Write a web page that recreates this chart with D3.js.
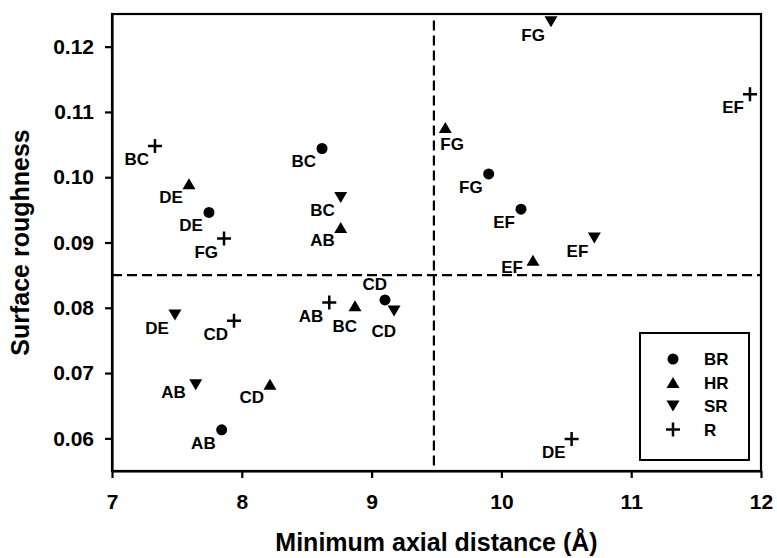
<!DOCTYPE html>
<html>
<head>
<meta charset="utf-8">
<script src="https://cdn.jsdelivr.net/npm/d3@7"></script>
<style>
  body { margin: 0; background: #fff; }
  text { font-family: "Liberation Sans", Arial, sans-serif; font-weight: bold; fill: #000; }
</style>
</head>
<body>
<div id="chart"></div>
<script>
// series shown in the legend
let seriesNames = ["BR", "HR", "SR", "R"];

// point labels (same order in every series)
let pairLabels = ["AB", "BC", "CD", "DE", "EF", "FG"];

// minimum axial distance (A) per series, same order as pairLabels
let brX = [7.845, 8.618, 9.103, 7.747, 10.151, 9.902];
let hrX = [8.762, 8.872, 8.217, 7.593, 10.243, 9.568];
let srX = [7.645, 8.762, 9.173, 7.485, 10.716, 10.382];
let rX  = [8.674, 7.331, 7.940, 10.541, 11.915, 7.863];

// surface roughness per series
let brY = [0.0613, 0.1044, 0.0812, 0.0946, 0.0951, 0.1005];
let hrY = [0.0923, 0.0803, 0.0683, 0.0990, 0.0873, 0.1076];
let srY = [0.0682, 0.0969, 0.0795, 0.0789, 0.0907, 0.1238];
let rY  = [0.0808, 0.1048, 0.0780, 0.0599, 0.1127, 0.0906];

// axis ticks
let xTicks = [7, 8, 9, 10, 11, 12];
let yTicks = [0.06, 0.07, 0.08, 0.09, 0.10, 0.11, 0.12];
let xDomain = [7, 12];
let yDomain = [0.055, 0.125];

// dashed divider lines
let xSplit = 9.48;
let ySplit = 0.085;
let xSplitTop = 0.124;

// where each label sits next to its marker (bl = below-left by default)
let labelSpots = {
  "BR-CD": "above",
  "HR-FG": "belowRight",
  "HR-EF": "left",
  "HR-BC": "below",
  "SR-CD": "below",
  "SR-AB": "left"
};

let spotOffsets = {
  bl:         {anchor: "end",   dx: -6,  dy: 19},
  left:       {anchor: "end",   dx: -10, dy: 13},
  above:      {anchor: "end",   dx: 2,   dy: -10},
  below:      {anchor: "end",   dx: 2,   dy: 26},
  belowRight: {anchor: "start", dx: -5,  dy: 22}
};

// set up the overall chart size
let svgWidth = 777;
let svgHeight = 558;

let margin = {
  top: 14,
  right: 16,
  bottom: 87,
  left: 112
};

let width = svgWidth - (margin.left + margin.right);
let height = svgHeight - (margin.top + margin.bottom);

let svg = d3.select("#chart")
  .append("svg")
  .attr("width", svgWidth)
  .attr("height", svgHeight);

let chartGroup = svg.append("g")
  .attr("transform", `translate(${margin.left}, ${margin.top})`);

let xLinearScale = d3.scaleLinear().domain(xDomain).range([0, width]);
let yLinearScale = d3.scaleLinear().domain(yDomain).range([height, 0]);

// build the point table from the arrays
let allX = [brX, hrX, srX, rX];
let allY = [brY, hrY, srY, rY];
let points = [];
seriesNames.forEach(function(s, i) {
  pairLabels.forEach(function(lab, j) {
    points.push({series: s, label: lab, x: allX[i][j], y: allY[i][j]});
  });
});

// marker shapes
function markerPath(series) {
  if (series === "BR") {
    let p = d3.path();
    p.arc(0, 0, 5.5, 0, 2 * Math.PI);
    return p.toString();
  }
  if (series === "HR") return "M-6.5,5.5L6.5,5.5L0,-5.5Z";
  if (series === "SR") return "M-6.5,-5.5L6.5,-5.5L0,5.5Z";
  return "M-7,0L7,0M0,-7L0,7";
}

function drawMarker(sel, series) {
  sel.append("path")
    .attr("d", markerPath(series))
    .attr("fill", series === "R" ? "none" : "#000")
    .attr("stroke", series === "R" ? "#000" : "none")
    .attr("stroke-width", 2.5);
}

// axes
let leftAxis = d3.axisLeft(yLinearScale)
  .tickValues(yTicks)
  .tickFormat(d3.format(".2f"))
  .tickSizeInner(7)
  .tickSizeOuter(0)
  .tickPadding(11);

let bottomAxis = d3.axisBottom(xLinearScale)
  .tickValues(xTicks)
  .tickFormat(d3.format("d"))
  .tickSizeInner(7)
  .tickSizeOuter(0)
  .tickPadding(16);

let yAxis = chartGroup.append("g").call(leftAxis);
let xAxis = chartGroup.append("g")
  .attr("transform", `translate(0,${height})`)
  .call(bottomAxis);

[xAxis, yAxis].forEach(function(ax) {
  ax.selectAll("path").attr("stroke-width", 2.2);
  ax.selectAll("line").attr("stroke-width", 2.2);
  ax.selectAll("text")
    .attr("font-size", "21px")
    .attr("font-family", "'Liberation Sans', Arial, sans-serif")
    .attr("font-weight", "bold")
    .attr("fill", "#000");
});

// frame
chartGroup.append("rect")
  .attr("x", 0)
  .attr("y", 0)
  .attr("width", width)
  .attr("height", height)
  .attr("fill", "none")
  .attr("stroke", "#000")
  .attr("stroke-width", 2.2);

// dashed dividers
chartGroup.append("line")
  .attr("x1", 0)
  .attr("x2", width)
  .attr("y1", yLinearScale(ySplit))
  .attr("y2", yLinearScale(ySplit))
  .attr("stroke", "#000")
  .attr("stroke-width", 2.2)
  .attr("stroke-dasharray", "10,5");

chartGroup.append("line")
  .attr("x1", xLinearScale(xSplit))
  .attr("x2", xLinearScale(xSplit))
  .attr("y1", yLinearScale(xSplitTop))
  .attr("y2", height)
  .attr("stroke", "#000")
  .attr("stroke-width", 2.2)
  .attr("stroke-dasharray", "10,5");

// points with labels
let nodes = chartGroup.append("g")
  .selectAll("g")
  .data(points)
  .enter()
  .append("g")
  .attr("transform", function(d) {
    return "translate(" + xLinearScale(d.x) + "," + yLinearScale(d.y) + ")";
  });

nodes.each(function(d) {
  drawMarker(d3.select(this), d.series);
});

nodes.append("text")
  .attr("font-size", "17px")
  .each(function(d) {
    let spot = spotOffsets[labelSpots[d.series + "-" + d.label] || "bl"];
    d3.select(this)
      .attr("text-anchor", spot.anchor)
      .attr("x", spot.dx)
      .attr("y", spot.dy);
  })
  .text(function(d) { return d.label; });

// legend
let legend = chartGroup.append("g")
  .attr("transform", `translate(${640 - margin.left}, ${333 - margin.top})`);

legend.append("rect")
  .attr("width", 109)
  .attr("height", 127)
  .attr("fill", "#fff")
  .attr("stroke", "#000")
  .attr("stroke-width", 2);

let legendRows = legend.selectAll("g.row")
  .data(seriesNames)
  .enter()
  .append("g")
  .attr("class", "row")
  .attr("transform", function(d, i) { return `translate(33, ${26 + i * 23.5})`; });

legendRows.each(function(d) {
  drawMarker(d3.select(this), d);
});

legendRows.append("text")
  .attr("x", 31)
  .attr("y", 6)
  .attr("font-size", "17px")
  .text(function(d) { return d; });

// axis titles
svg.append("text")
  .attr("x", margin.left + width / 2)
  .attr("y", 551)
  .attr("text-anchor", "middle")
  .attr("font-size", "25px")
  .text("Minimum axial distance (Å)");

svg.append("text")
  .attr("transform", `translate(29, ${margin.top + height / 2}) rotate(-90)`)
  .attr("text-anchor", "middle")
  .attr("font-size", "25px")
  .text("Surface roughness");
</script>
</body>
</html>
